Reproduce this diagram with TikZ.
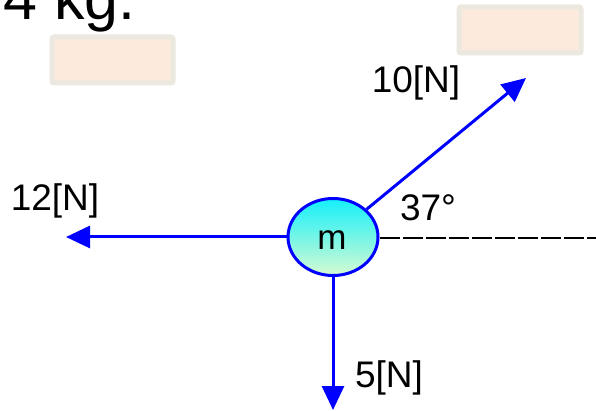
\documentclass[tikz,border=0pt]{standalone}
\usepackage{fontspec}
\setmainfont{Liberation Sans}
\usetikzlibrary{arrows.meta,shapes.geometric}
\definecolor{peach}{HTML}{FCEADC}
\definecolor{peachborder}{HTML}{EBE8DF}
\tikzset{
  force/.style={draw={rgb,255:red,0;green,0;blue,255}, line width=3pt, -{Triangle[length=24pt,width=22pt]}},
  lbl/.style={font=\fontsize{37}{40}\selectfont, inner sep=0pt, anchor=center},
  blank/.style={draw=peachborder, fill=peach, line width=5pt, rounded corners=2pt},
}
\begin{document}
\begin{tikzpicture}[x=1pt,y=-1pt]
\useasboundingbox[fill=white] (0,0) rectangle (596,411);
\node[font=\fontsize{61}{64}\selectfont, inner sep=0pt, anchor=base west] (title) at (3,20) {4 kg.};
\draw[blank] (52,37) rectangle (173,83);
\draw[blank] (459,7) rectangle (581,53);
\node[ellipse, minimum width=90pt, minimum height=77pt, draw={rgb,255:red,0;green,0;blue,255}, line width=3pt, top color={rgb,255:red,20;green,240;blue,250}, bottom color={rgb,255:red,215;green,250;blue,210}, inner sep=0pt] (m) at (333,237) {};
\node[font=\fontsize{35}{38}\selectfont, inner sep=0pt] (mlbl) at (332,240) {m};
\coordinate (left) at (66,237);
\coordinate (down) at (333,410);
\coordinate (diag) at (526,78);
\coordinate (dend) at (596,238);
\draw[force] (m) -- (left);
\draw[force] (m) -- (down);
\draw[force] (m) -- (diag);
\draw[line width=1.5pt, dash pattern=on 20pt off 3pt] (m.east) ++(0,1) coordinate (dstart) -- (dend);
\node[lbl] (f12) at (55,201) {12[N]};
\node[lbl] (f10) at (416,83) {10[N]};
\node[lbl] (ang) at (428,208) {37°};
\node[lbl] (f5) at (389,378) {5[N]};
\end{tikzpicture}
\end{document}
